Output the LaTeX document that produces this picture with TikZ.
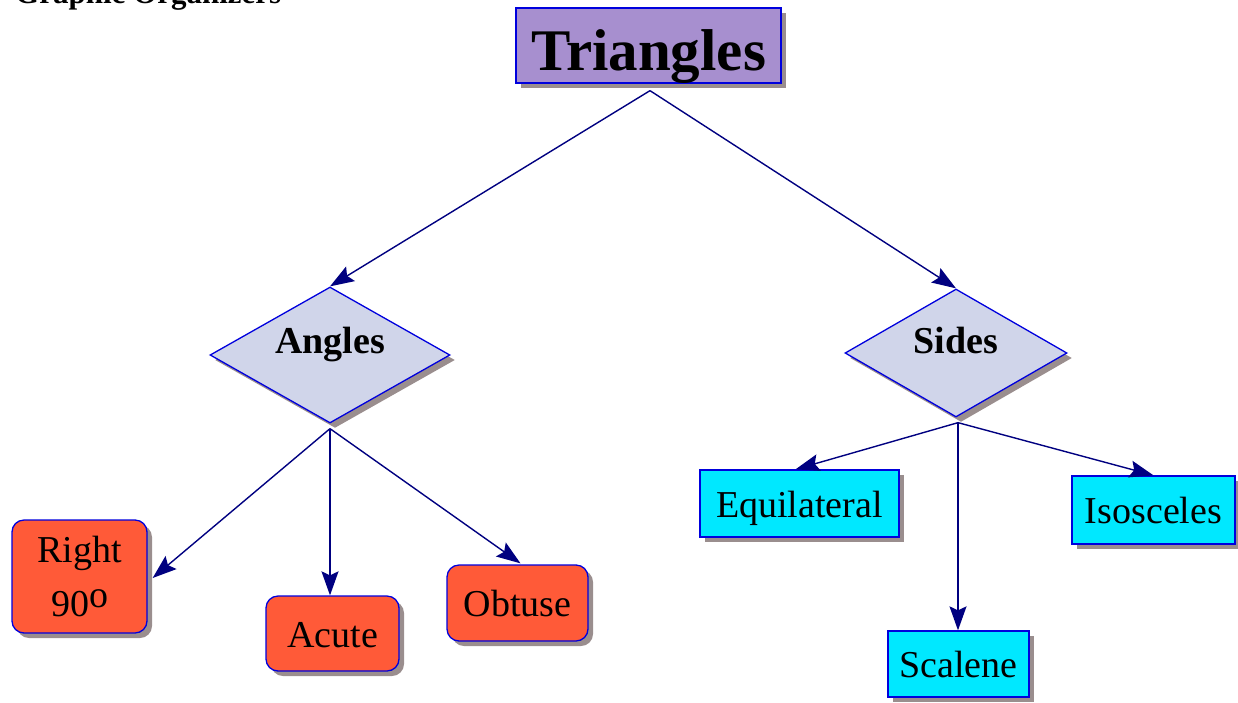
\documentclass[tikz,border=0pt]{standalone}
\usepackage{fontspec}
\setmainfont{Liberation Serif}
\usetikzlibrary{shapes.geometric,shadows,arrows.meta,calc}
\definecolor{boxborder}{HTML}{0000DD}
\definecolor{arrowcol}{HTML}{000080}
\definecolor{purplefill}{HTML}{A78FCF}
\definecolor{orangefill}{HTML}{FF5A38}
\definecolor{cyanfill}{HTML}{00E8FF}
\definecolor{diamondfill}{HTML}{D0D5EA}
\definecolor{shadowgray}{HTML}{9A8E8E}
\begin{document}
\begin{tikzpicture}[x=1pt,y=-1pt,
  shadowed/.style={drop shadow={shadow xshift=5pt,shadow yshift=-5pt,fill=shadowgray,opacity=1}},
  basebox/.style={draw=boxborder,line width=1.3pt,inner sep=0pt,align=center,shadowed,
    font=\fontsize{38}{54}\selectfont},
  titlebox/.style={basebox,rectangle,fill=purplefill,font=\bfseries\fontsize{59}{62}\selectfont,
    text height=49pt,text depth=0pt},
  diamondbox/.style={basebox,diamond,fill=diamondfill,font=\bfseries\fontsize{38}{40}\selectfont},
  anglebox/.style={basebox,rectangle,rounded corners=12pt,fill=orangefill},
  sidebox/.style={basebox,rectangle,fill=cyanfill},
  oneline/.style={text height=27pt,text depth=0pt},
  link/.style={draw=arrowcol,line width=1.4pt,-{Stealth[length=24pt,width=17pt,inset=4pt]}},
]
\useasboundingbox (0,0) rectangle (1238,702);
\clip (0,0) rectangle (1238,702);

\node[anchor=base west,inner sep=0pt,font=\bfseries\fontsize{31}{33}\selectfont] (title) at (15,3) {Graphic Organizers};

\node[titlebox,minimum width=265,minimum height=75] (tri) at (648.5,45.5) {Triangles};

\node[diamondbox,minimum width=240,minimum height=136,text height=0pt,text depth=3pt] (ang) at (330,355) {Angles};
\node[diamondbox,minimum width=222,minimum height=128,text height=0pt,text depth=0pt] (sid) at (956,353) {Sides};

\node[anglebox,minimum width=135,minimum height=113] (rgt) at (79.5,576.5) {Right\\90\raisebox{0.24em}{o}};
\node[anglebox,oneline,minimum width=133,minimum height=75] (acu) at (332.5,633.5) {Acute};
\node[anglebox,oneline,minimum width=141,minimum height=76] (obt) at (517.5,603) {Obtuse};

\node[sidebox,oneline,minimum width=199,minimum height=67] (equ) at (799.5,503.5) {Equilateral};
\node[sidebox,oneline,minimum width=141,minimum height=66] (sca) at (958.5,664) {Scalene};
\node[sidebox,oneline,minimum width=163,minimum height=68] (iso) at (1153.5,510) {Isosceles};

\coordinate (trib) at ($(tri.south)+(1.5,7)$);
\coordinate (angb) at ($(ang.south)+(0,5)$);
\coordinate (sidb) at ($(sid.south)+(2,5)$);
\coordinate (rgtr) at ($(rgt.east)+(5,1.5)$);
\coordinate (obtt) at ($(obt.north)+(3,-1)$);
\coordinate (equt) at ($(equ.north)+(-4,0)$);

\draw[link] (trib) -- (ang.north);
\draw[link] (trib) -- (sid.north);

\draw[link] (angb) -- (rgtr);
\draw[link] (angb) -- (angb |- acu.north);
\draw[link] (angb) -- (obtt);

\draw[link] (sidb) -- (equt);
\draw[link] (sidb) -- (sidb |- sca.north);
\draw[link] (sidb) -- (iso.north);
\end{tikzpicture}
\end{document}
